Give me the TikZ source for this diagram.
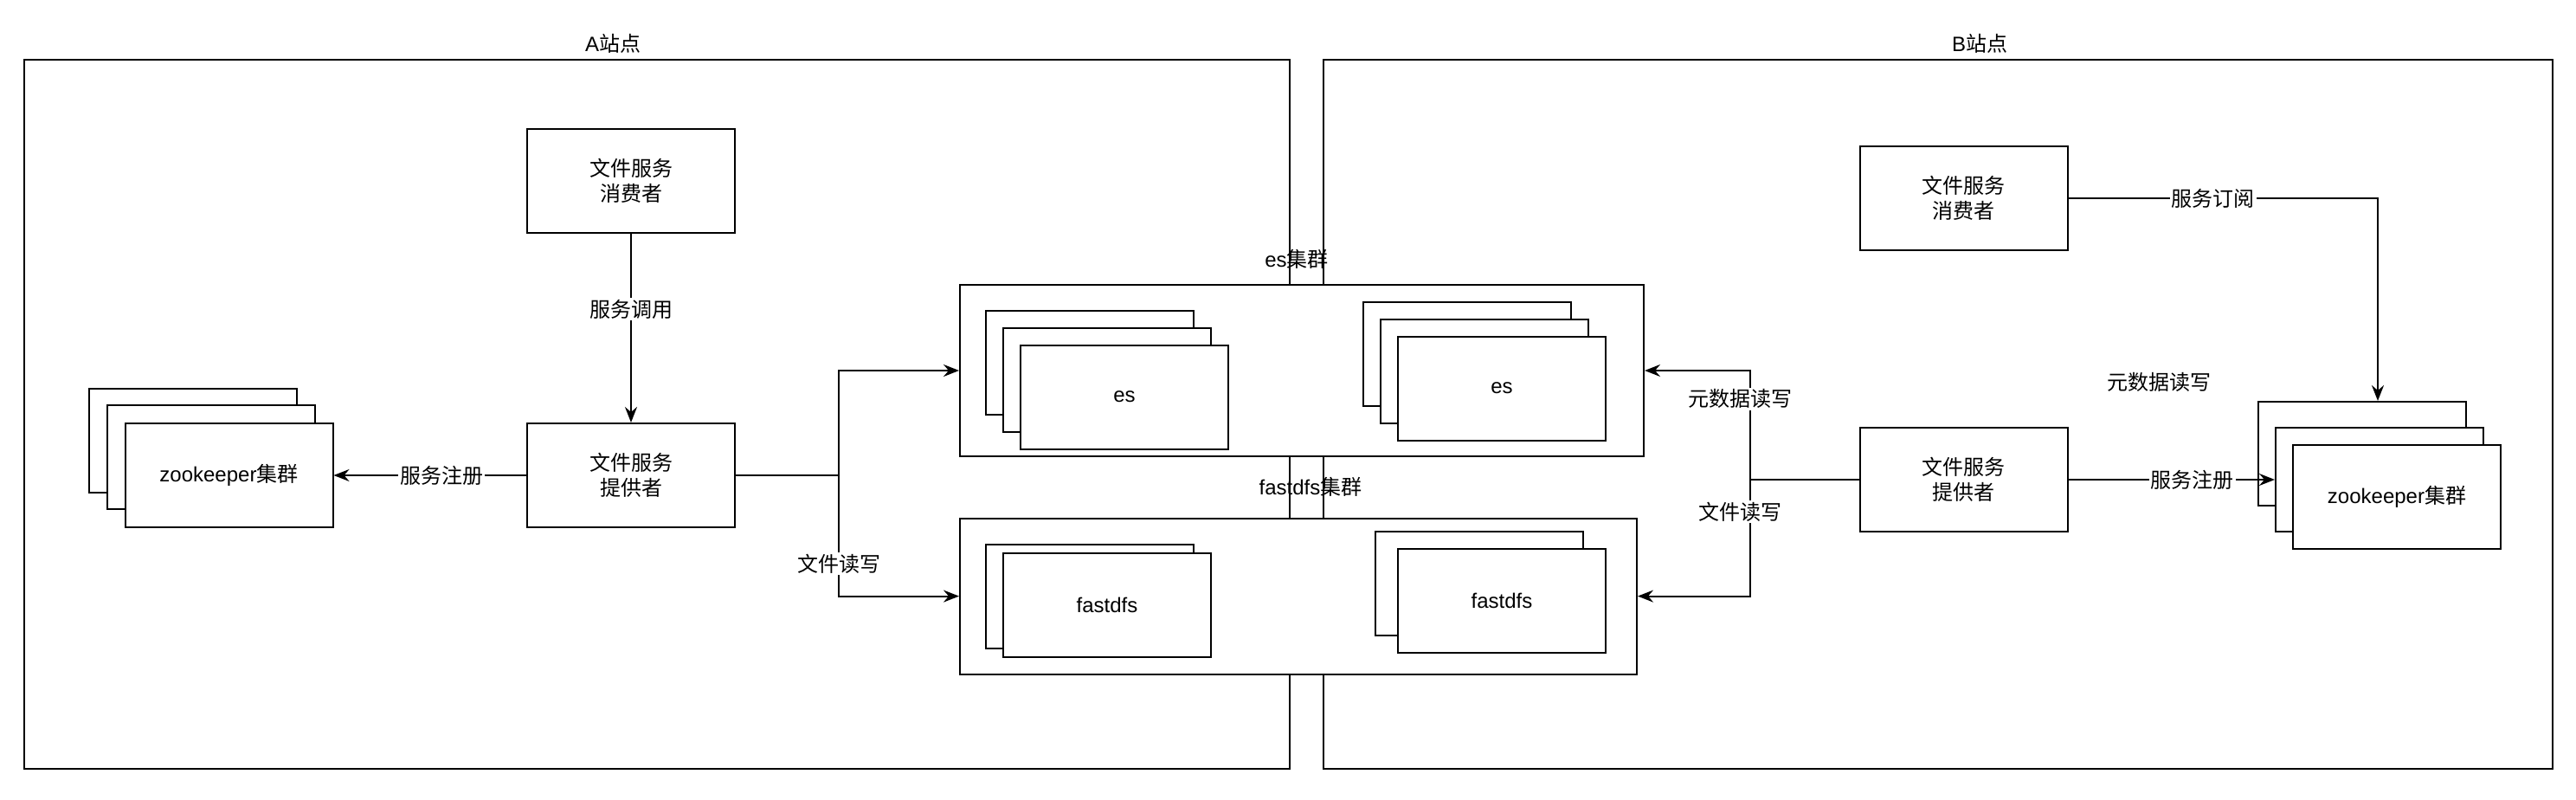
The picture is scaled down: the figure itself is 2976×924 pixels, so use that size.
\documentclass[tikz,border=0pt]{standalone}
\usepackage{fontspec}
\setmainfont{Liberation Sans}
\newfontfamily\cjk{Noto Sans CJK SC}
\usetikzlibrary{arrows.meta}

\begin{document}
\begin{tikzpicture}[x=0.5pt,y=-0.5pt,font=\fontsize{12}{14.4}\selectfont]
\tikzstyle{every path}=[line width=1pt]
\tikzstyle{box}=[draw,rectangle,fill=white,inner sep=0pt,minimum width=120pt,minimum height=60pt,align=center]
\tikzstyle{cluster}=[draw,rectangle,fill=white,inner sep=0pt]
\tikzstyle{tag}=[fill=white,inner sep=1pt]
\tikzstyle{link}=[-{Stealth[length=9pt,width=7pt,inset=3pt]}]
\useasboundingbox (0,0) rectangle (2976,924);
% sites
\draw (28,69) rectangle (1490,888);
\draw (1529,69) rectangle (2949,888);
\node (siteA) at (708,50) {A{\cjk 站点}};
\node (siteB) at (2287,50) {B{\cjk 站点}};
% shared clusters
\node[cluster, minimum width=395pt, minimum height=99pt] (esC) at (1504,428) {};
\node (esCname) at (1498,299) {es{\cjk 集群}};
\node[cluster, minimum width=391pt, minimum height=90pt] (fdC) at (1500,688.6) {};
\node (fdCname) at (1514,562) {fastdfs{\cjk 集群}};
\node[box] (esL1) at (1259,418.6) {};
\node[box] (esL2) at (1279,438.6) {};
\node[box] (esL3) at (1299,458.6) {es};
\node[box] (esR1) at (1695,408.6) {};
\node[box] (esR2) at (1715,428.6) {};
\node[box] (esR3) at (1735,448.6) {es};
\node[box] (fdL1) at (1259,688.6) {};
\node[box] (fdL2) at (1279,698.6) {fastdfs};
\node[box] (fdR1) at (1709,673.8) {};
\node[box] (fdR2) at (1735,693.6) {fastdfs};
% site A
\node[box] (consA) at (729,209) {\cjk 文件服务\\\cjk 消费者};
\node[box] (provA) at (729,549) {\cjk 文件服务\\\cjk 提供者};
\node[box] (zkA1) at (223,509) {};
\node[box] (zkA2) at (243.5,528.5) {};
\node[box] (zkA3) at (264.5,549) {zookeeper{\cjk 集群}};
\draw[link] (consA) -- node[tag,pos=0.4] (callA) {\cjk 服务调用} (provA);
\draw[link] (provA) -- node[tag,pos=0.44] (regA) {\cjk 服务注册} (zkA3);
\coordinate (jA) at (969,549);
\draw (provA.east) -- (jA);
\draw[link] (jA) |- (esC.west);
\draw[link] (jA) |- node[tag,pos=0.365] (fileA) {\cjk 文件读写} (fdC.west);
% site B
\node[box] (consB) at (2268.5,229) {\cjk 文件服务\\\cjk 消费者};
\node[box] (provB) at (2268.5,554) {\cjk 文件服务\\\cjk 提供者};
\node[box] (zkB1) at (2729,524) {};
\node[box] (zkB2) at (2749,554) {};
\node[box] (zkB3) at (2769,573.6) {zookeeper{\cjk 集群}};
\node (metaB) at (2494,441) {\cjk 元数据读写};
\draw[link] (consB.east) -| node[tag,pos=0.234] (subB) {\cjk 服务订阅} ([xshift=9pt]zkB1.north);
\draw[link] (provB) -- node[tag,pos=0.6] (regB) {\cjk 服务注册} (zkB2);
\coordinate (jB) at (2022,554);
\draw (provB.west) -- (jB);
\draw[link] (jB) |- node[tag,pos=0.37,xshift=-6pt] (metaRW) {\cjk 元数据读写} (esC.east);
\draw[link] (jB) |- node[tag,pos=0.137,xshift=-6pt] (fileB) {\cjk 文件读写} (fdC.east);
\end{tikzpicture}
\end{document}
